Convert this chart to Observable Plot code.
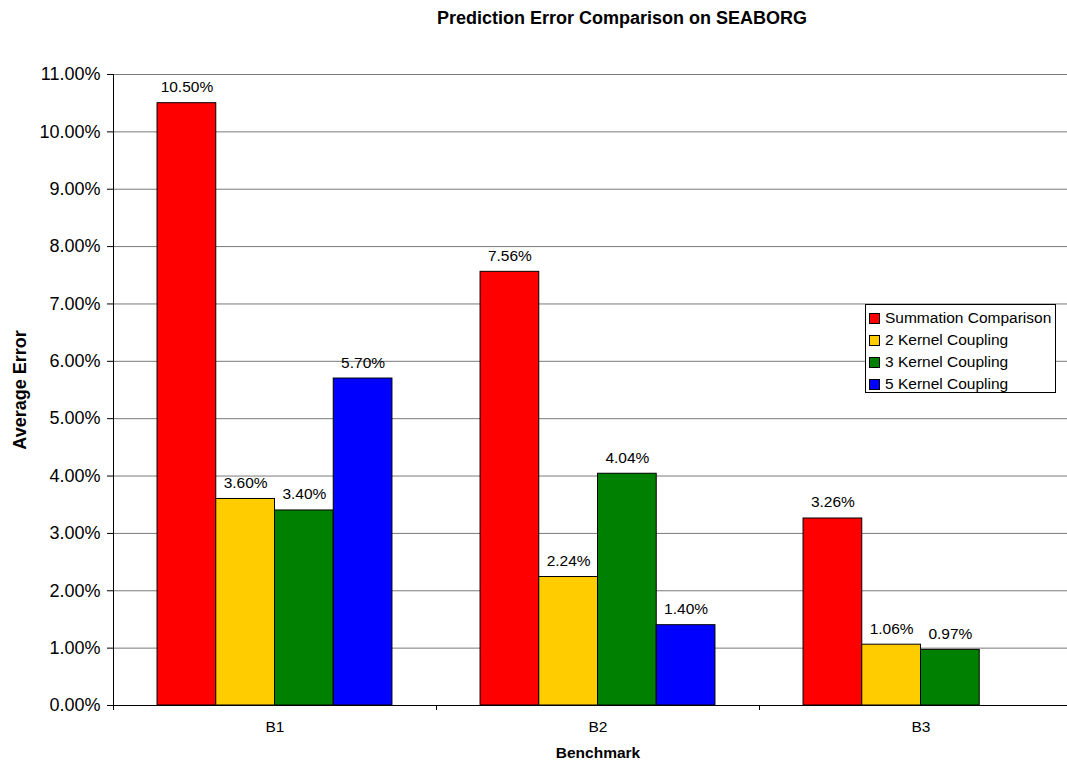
<!DOCTYPE html>
<html>
<head>
<meta charset="utf-8">
<script src="https://cdn.jsdelivr.net/npm/d3@7"></script>
<script src="https://cdn.jsdelivr.net/npm/@observablehq/plot@0.6"></script>
<style>
  body { margin: 0; background: #fff; font-family: "Liberation Sans", Arial, sans-serif; }
  #wrap { position: relative; width: 1067px; height: 761px; overflow: hidden; background: #fff; }
  #chart { position: absolute; left: 0; top: 0; width: 1082px; }
  #chart svg { max-width: none !important; width: 1082px; height: 761px; }
  #title { position: absolute; left: 372px; width: 500px; top: 8px; text-align: center;
           font-weight: bold; font-size: 18px; color: #000; }
  #legend { position: absolute; left: 865px; top: 304px; width: 191px; height: 89px;
            border: 1px solid #000; background: #fff; box-sizing: border-box; padding-top: 2px; }
  .item { height: 22px; display: flex; align-items: center; font-size: 15.5px; color: #000; }
  .sw { width: 9px; height: 9px; border: 1px solid #000; margin-left: 3px; margin-right: 5px; flex: none; }
</style>
</head>
<body>
<div id="wrap">
  <div id="chart"></div>
  <div id="title">Prediction Error Comparison on SEABORG</div>
  <div id="legend"></div>
</div>
<script>
// ---- data ----
const benchmarks = ["B1", "B2", "B3"];
const seriesNames = ["Summation Comparison", "2 Kernel Coupling", "3 Kernel Coupling", "5 Kernel Coupling"];
const seriesColors = ["#ff0000", "#ffcc00", "#008000", "#0000ff"];
const summation = [10.50, 7.56, 3.26];
const kernel2 = [3.60, 2.24, 1.06];
const kernel3 = [3.40, 4.04, 0.97];
const kernel5 = [5.70, 1.40, null];
const yTickValues = [0, 1, 2, 3, 4, 5, 6, 7, 8, 9, 10, 11];

// ---- layout helpers (slot units) ----
const seriesValues = [summation, kernel2, kernel3, kernel5];
const gap = 0.75;                       // empty slots on each side of a group
const groupWidth = seriesNames.length + 2 * gap;

const rows = [];
benchmarks.forEach((b, i) => {
  seriesNames.forEach((s, j) => {
    const v = seriesValues[j][i];
    if (v == null) return;
    const x1 = i * groupWidth + gap + j;
    rows.push({bench: b, series: s, value: v / 100, x1, x2: x1 + 1});
  });
});

const groupCenters = benchmarks.map((b, i) => i * groupWidth + groupWidth / 2);
const groupEdges = d3.range(benchmarks.length + 1).map(i => i * groupWidth);
const fmt = d3.format(".2%");

const chart = Plot.plot({
  width: 1082,
  height: 761,
  marginLeft: 113,
  marginRight: 0,
  marginTop: 74,
  marginBottom: 56,
  style: {fontFamily: "'Liberation Sans', Arial, sans-serif", background: "white", color: "black", maxWidth: "none"},
  x: {domain: [0, benchmarks.length * groupWidth], axis: null},
  y: {domain: [0, 0.11], axis: null},
  color: {domain: seriesNames, range: seriesColors},
  marks: [
    Plot.gridY(yTickValues.map(d => d / 100), {stroke: "#7a7a7a", strokeOpacity: 1}),
    Plot.rectY(rows, {x1: "x1", x2: "x2", y: "value", fill: "series", stroke: "black", strokeWidth: 1}),
    Plot.text(rows, {x: d => (d.x1 + d.x2) / 2, y: "value", text: d => fmt(d.value),
                     lineAnchor: "bottom", dy: -11, fontSize: 15.5, fill: "black"}),
    Plot.ruleY([0], {stroke: "black"}),
    Plot.ruleX([0], {y1: 0, y2: 0.11, stroke: "black"}),
    Plot.axisY({ticks: yTickValues.map(d => d / 100), tickFormat: fmt, tickSize: 6, tickPadding: 7,
                fontSize: 18, label: null, stroke: "black"}),
    Plot.axisX({ticks: groupEdges, tickSize: 5, tickFormat: () => "", label: null, stroke: "black"}),
    Plot.axisX({ticks: groupCenters, tickSize: 0, tickPadding: 15, fontSize: 15.5,
                tickFormat: (d) => benchmarks[groupCenters.indexOf(d)], label: null}),
    Plot.text(["Average Error"], {frameAnchor: "left", textAnchor: "middle", lineAnchor: "middle",
                                  dx: -93, rotate: -90, fontWeight: "bold",
                                  fontSize: 18, fill: "black", text: d => d}),
    Plot.text(["Benchmark"], {frameAnchor: "bottom", dy: 52, fontWeight: "bold",
                              fontSize: 15.5, fill: "black", text: d => d})
  ]
});
document.getElementById("chart").appendChild(chart);

// legend
const legend = document.getElementById("legend");
seriesNames.forEach((s, j) => {
  const item = document.createElement("div");
  item.className = "item";
  const sw = document.createElement("span");
  sw.className = "sw";
  sw.style.background = seriesColors[j];
  item.appendChild(sw);
  item.appendChild(document.createTextNode(s));
  legend.appendChild(item);
});
</script>
</body>
</html>
